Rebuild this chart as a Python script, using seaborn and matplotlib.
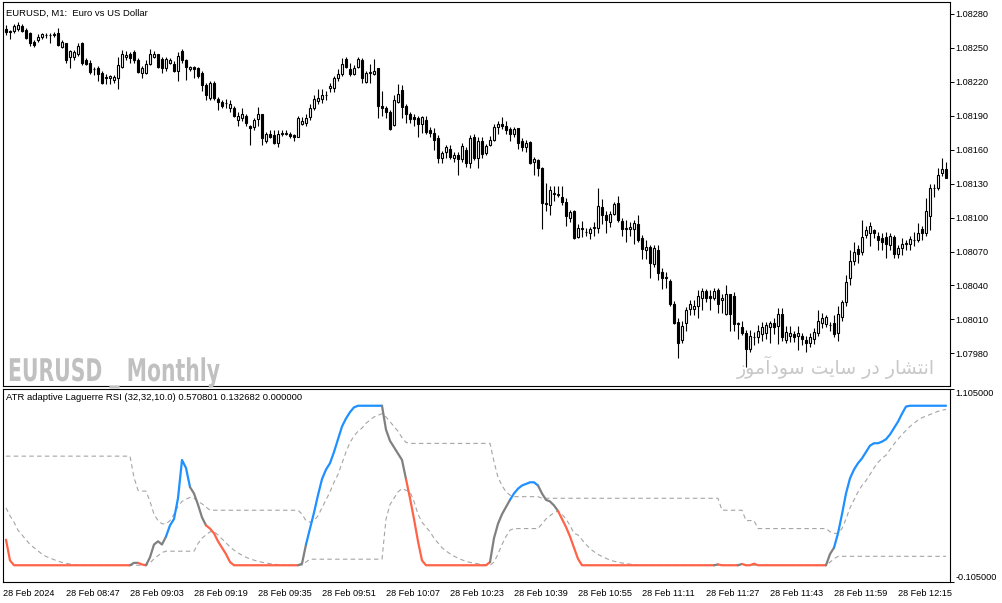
import numpy as np
import pandas as pd
import matplotlib
matplotlib.use("Agg")
import matplotlib.pyplot as plt
import seaborn as sns
from matplotlib.patheffects import AbstractPathEffect
from matplotlib.transforms import Affine2D

# ---------------- data (prices in points above 1.08000) ----------------
open_pts = [267, 264, 265, 267, 269, 266, 263, 255, 257, 260, 261, 261, 261, 263, 251, 254, 242, 242, 245, 254,
            239, 237, 231, 232, 228, 224, 223, 222, 223, 233, 242, 245, 246, 239, 228, 228, 236, 242, 245, 240,
            232, 237, 236, 230, 247, 239, 231, 233, 232, 228, 217, 206, 219, 205, 202, 201, 197, 197, 186, 188,
            190, 181, 180, 187, 192, 168, 174, 173, 166, 174, 174, 174, 173, 171, 183, 184, 189, 197, 203, 205,
            208, 215, 215, 223, 227, 240, 231, 227, 233, 239, 220, 228, 227, 232, 199, 197, 193, 182, 202, 213,
            199, 192, 189, 188, 183, 186, 177, 175, 170, 153, 158, 161, 153, 155, 152, 160, 148, 171, 153, 168,
            157, 164, 169, 180, 183, 181, 178, 174, 179, 168, 162, 167, 149, 151, 144, 113, 111, 121, 120, 118,
            114, 100, 106, 83, 90, 87, 86, 91, 91, 109, 102, 96, 103, 113, 97, 90, 90, 90, 94, 82,
            71, 74, 59, 71, 52, 47, 44, 24, 8, -8, 7, 19, 19, 22, 29, 35, 31, 29, 36, 27,
            15, 32, 31, 6, 3, -2, -16, -6, -6, -3, -2, 3, 7, 4, 15, -8, -5, -3, -5, -5,
            -8, -11, -7, -2, 7, 6, 5, 7, -2, 12, 25, 47, 62, 72, 70, 85, 86, 89, 84, 82,
            83, 76, 83, 68, 73, 77, 77, 80, 80, 90, 86, 101, 126, 126, 139, 143]
high_pts = [270, 266, 271, 273, 271, 268, 264, 257, 262, 263, 263, 263, 264, 268, 257, 254, 248, 248, 254, 255,
            241, 239, 233, 234, 230, 227, 226, 226, 242, 248, 247, 246, 248, 241, 234, 239, 249, 247, 245, 242,
            242, 241, 238, 246, 249, 240, 234, 234, 233, 230, 219, 221, 221, 207, 204, 205, 204, 199, 193, 197,
            192, 182, 188, 198, 192, 176, 177, 177, 177, 177, 177, 176, 174, 190, 189, 192, 200, 208, 214, 214,
            212, 219, 225, 231, 241, 242, 237, 235, 242, 241, 230, 236, 240, 232, 212, 199, 195, 208, 218, 217,
            200, 193, 192, 190, 190, 190, 180, 179, 173, 159, 164, 164, 158, 158, 166, 162, 173, 174, 171, 171,
            165, 172, 183, 185, 189, 185, 180, 180, 179, 170, 169, 168, 154, 152, 145, 131, 128, 128, 128, 128,
            117, 107, 107, 94, 97, 91, 92, 96, 126, 116, 106, 106, 114, 119, 100, 98, 96, 98, 102, 85,
            80, 76, 76, 76, 55, 52, 46, 26, 11, 9, 21, 27, 27, 36, 38, 37, 36, 38, 38, 32,
            40, 32, 34, 8, 9, 1, 1, -1, 5, 8, 8, 9, 11, 20, 20, 4, 4, 0, 4, -2,
            -5, -2, 2, 18, 16, 14, 8, 14, 22, 27, 49, 71, 78, 76, 98, 93, 96, 90, 87, 86,
            87, 86, 85, 76, 82, 80, 84, 87, 95, 93, 117, 130, 130, 144, 153, 149]
low_pts = [261, 258, 263, 265, 264, 258, 252, 251, 255, 258, 259, 254, 260, 252, 250, 237, 232, 239, 243, 235,
           235, 227, 226, 221, 218, 218, 218, 219, 214, 232, 239, 237, 237, 228, 223, 227, 235, 241, 232, 228,
           230, 236, 229, 221, 237, 222, 230, 223, 223, 212, 204, 204, 204, 195, 197, 197, 193, 189, 181, 185,
           181, 164, 177, 181, 164, 166, 170, 165, 162, 172, 173, 170, 168, 171, 182, 181, 186, 195, 200, 201,
           204, 211, 211, 221, 225, 232, 225, 226, 232, 219, 219, 219, 226, 188, 190, 188, 177, 181, 201, 188,
           184, 184, 181, 171, 175, 174, 171, 160, 148, 148, 153, 152, 149, 138, 149, 145, 144, 151, 144, 153,
           155, 163, 168, 174, 178, 174, 168, 171, 161, 159, 158, 147, 138, 137, 90, 106, 102, 115, 118, 111,
           93, 96, 81, 82, 83, 84, 81, 84, 86, 94, 86, 92, 102, 96, 84, 78, 84, 77, 78, 63,
           63, 47, 56, 45, 37, 38, 22, 6, -24, -11, 0, 14, 14, 11, 18, 25, 18, 27, 16, 16,
           14, 0, 0, -7, -4, -32, -19, -13, -11, -9, -7, -11, -3, -12, -9, -11, -10, -10, -17, -13,
           -19, -14, -12, -5, 2, 3, 0, -6, -9, 9, 22, 40, 58, 60, 67, 82, 75, 82, 71, 71,
           64, 71, 64, 64, 67, 71, 71, 75, 78, 80, 84, 89, 118, 124, 137, 135]
close_pts = [264, 265, 269, 270, 265, 259, 254, 253, 260, 262, 261, 261, 262, 253, 255, 239, 247, 246, 252, 237,
             236, 229, 231, 227, 219, 223, 225, 224, 235, 245, 244, 241, 239, 229, 232, 236, 245, 245, 233, 232,
             240, 239, 230, 243, 239, 233, 233, 231, 225, 217, 208, 219, 206, 202, 199, 201, 200, 190, 190, 192,
             184, 179, 186, 192, 170, 174, 171, 166, 174, 175, 174, 172, 171, 188, 185, 188, 197, 205, 206, 208,
             208, 216, 223, 227, 236, 233, 227, 232, 240, 223, 228, 228, 230, 199, 197, 193, 178, 204, 209, 198,
             192, 187, 187, 183, 189, 176, 175, 169, 153, 157, 162, 154, 155, 152, 163, 148, 170, 153, 168, 156,
             163, 169, 180, 183, 181, 177, 174, 178, 166, 162, 166, 148, 152, 144, 113, 112, 124, 121, 121, 114,
             101, 105, 82, 91, 90, 87, 90, 91, 110, 102, 98, 103, 112, 98, 90, 90, 92, 95, 80, 72,
             74, 60, 73, 51, 47, 47, 24, 7, -11, 4, 18, 24, 22, 31, 35, 29, 29, 35, 24, 29,
             32, 15, 6, 6, -2, -16, -5, -6, 0, 3, 5, 7, 3, 15, -6, -1, -2, -6, -2, -7,
             -11, -6, -1, 9, 11, 12, 5, -3, 15, 25, 43, 62, 70, 68, 83, 89, 93, 86, 80, 78,
             77, 84, 68, 73, 77, 77, 81, 80, 86, 86, 106, 126, 126, 138, 143, 135]

time_labels = ["28 Feb 2024", "28 Feb 08:47", "28 Feb 09:03", "28 Feb 09:19", "28 Feb 09:35",
               "28 Feb 09:51", "28 Feb 10:07", "28 Feb 10:23", "28 Feb 10:39", "28 Feb 10:55",
               "28 Feb 11:11", "28 Feb 11:27", "28 Feb 11:43", "28 Feb 11:59", "28 Feb 12:15"]
time_label_bars = [-0.75, 15, 31, 47, 63, 79, 95, 111, 127, 143, 159, 175, 191, 207, 223]
price_ticks = [1.07980, 1.08010, 1.08040, 1.08070, 1.08100, 1.08130, 1.08160, 1.08190, 1.08220, 1.08250, 1.08280]

# ATR adaptive Laguerre RSI main line
rsi = ([0.16, 0.03] + [0.0] * 30 +
       [0.015, 0.015, 0.005, 0.0, 0.05, 0.13, 0.15, 0.13, 0.18, 0.25, 0.29, 0.42, 0.66, 0.61, 0.49, 0.45,
        0.38, 0.30, 0.25, 0.23, 0.20, 0.15, 0.11, 0.07, 0.02] + [0.0] * 17 +
       [0.01, 0.13, 0.23, 0.33, 0.44, 0.54, 0.60, 0.64, 0.71, 0.79, 0.87, 0.92, 0.96, 0.99] + [1.0] * 7 +
       [0.85, 0.78, 0.74, 0.70, 0.66, 0.54, 0.42, 0.29, 0.15, 0.03] + [0.0] * 16 +
       [0.02, 0.17, 0.26, 0.32, 0.365, 0.41, 0.45, 0.48, 0.50, 0.51, 0.52, 0.52, 0.50, 0.45, 0.41, 0.40,
        0.375, 0.34, 0.29, 0.24, 0.18, 0.11, 0.04] + [0.0] * 34 + [0.005] + [0.0] * 5 + [0.008] + [0.0] * 2 +
       [0.01] + [0.0] * 18 +
       [0.07, 0.11, 0.20, 0.32, 0.45, 0.545, 0.60, 0.64, 0.67, 0.71, 0.75, 0.765, 0.765, 0.775, 0.79, 0.82,
        0.86, 0.90, 0.95, 0.995] + [1.0] * 10)
# upper floating level
level_up = ([0.684] * 32 +
            [0.55, 0.47, 0.465, 0.465, 0.40, 0.32, 0.28, 0.26, 0.26, 0.28, 0.32, 0.37, 0.40, 0.415, 0.425,
             0.42, 0.40, 0.385, 0.365] + [0.345] * 23 +
            [0.32, 0.28, 0.27, 0.28, 0.31, 0.36, 0.41, 0.46, 0.52, 0.57, 0.64, 0.71, 0.77, 0.81, 0.84, 0.86,
             0.89, 0.91, 0.93, 0.94, 0.95, 0.93, 0.90, 0.87, 0.84, 0.80, 0.77] + [0.764] * 21 +
            [0.65, 0.55, 0.50, 0.46, 0.44] + [0.43] * 7 + [0.42] * 45 + [0.345] * 6 + [0.28] * 3 +
            [0.23] * 18 +
            [0.21, 0.20, 0.20, 0.23, 0.29, 0.36, 0.41, 0.46, 0.50, 0.53, 0.57, 0.61, 0.645, 0.67, 0.69,
             0.725, 0.76, 0.79, 0.82, 0.845, 0.87, 0.89, 0.91, 0.925, 0.935, 0.945, 0.955, 0.965, 0.972, 0.977])
# lower floating level
level_dn = ([0.36, 0.31, 0.27, 0.22, 0.19, 0.16, 0.13, 0.11, 0.09, 0.07, 0.055, 0.045, 0.035, 0.025, 0.018,
             0.013, 0.008, 0.004] + [0.0] * 18 +
            [0.015, 0.04, 0.06, 0.08] + [0.088] * 8 +
            [0.136, 0.17, 0.19, 0.21, 0.21, 0.19, 0.165, 0.14, 0.115, 0.095, 0.078, 0.063, 0.05, 0.04, 0.032,
             0.025, 0.019, 0.014, 0.01, 0.007, 0.004, 0.002] + [0.0] * 5 + [0.02] + [0.038] * 19 +
            [0.29, 0.38, 0.42, 0.46, 0.48, 0.47, 0.46, 0.40, 0.32, 0.27, 0.24, 0.21, 0.17, 0.14, 0.11, 0.09,
             0.072, 0.057, 0.045, 0.034, 0.024, 0.018, 0.013, 0.009, 0.006, 0.003] +
            [0.0, 0.02, 0.07, 0.13, 0.18, 0.22] + [0.23] * 7 +
            [0.26, 0.29, 0.31, 0.33, 0.34, 0.32, 0.29, 0.25, 0.20, 0.19, 0.16, 0.13, 0.105, 0.085, 0.068,
             0.055, 0.043, 0.033, 0.025, 0.019, 0.014, 0.011, 0.007, 0.004] + [0.0] * 48 +
            [0.02, 0.04] + [0.056] * 28)
# colour state of the main line: (state, number of bars)
state_runs = [("dn", 32), ("flat", 2), ("dn", 2), ("flat", 5), ("up", 6), ("flat", 4), ("dn", 23),
              ("flat", 2), ("up", 19), ("flat", 6), ("dn", 21), ("flat", 5), ("up", 7), ("flat", 5),
              ("dn", 39), ("flat", 1), ("dn", 5), ("flat", 1), ("dn", 21), ("flat", 2), ("up", 28)]

STATE_COLORS = {"up": "#1E90FF", "dn": "#FF6347", "flat": "#808080"}
LEVEL_COLOR = "#A5A5A5"


class Squeeze(AbstractPathEffect):
    """Narrow the glyphs horizontally around x0 (display px) - a condensed look."""

    def __init__(self, sx, x0):
        super().__init__()
        self.sx = sx
        self.x0 = x0

    def draw_path(self, renderer, gc, tpath, affine, rgbFace=None):
        squeeze = Affine2D().translate(-self.x0, 0).scale(self.sx, 1).translate(self.x0, 0)
        renderer.draw_path(gc, tpath, affine + squeeze, rgbFace)


# ---------------- frame ----------------
sns.set_theme(style="white")
plt.rcParams["font.family"] = ["Liberation Sans", "DejaVu Sans"]
plt.rcParams["axes.unicode_minus"] = False

W, H = 1003, 603
fig = plt.figure(figsize=(W / 100, H / 100), dpi=100)
fig.patch.set_facecolor("white")
ax = fig.add_axes([3 / W, (H - 386) / H, 947 / W, 384 / H])
ax2 = fig.add_axes([3 / W, (H - 582) / H, 947 / W, 193 / H])

bars = pd.DataFrame({"bar": np.arange(len(open_pts)),
                     "open": 1.08 + np.array(open_pts) / 1e5,
                     "high": 1.08 + np.array(high_pts) / 1e5,
                     "low": 1.08 + np.array(low_pts) / 1e5,
                     "close": 1.08 + np.array(close_pts) / 1e5})
bull = bars["close"] >= bars["open"]

# candles
ax.vlines(bars["bar"], bars["low"], bars["high"], color="black", lw=0.8, zorder=2)
body = (bars["close"] - bars["open"]).abs().clip(lower=0.000004)
ax.bar(bars["bar"][bull], body[bull], bottom=bars[["open", "close"]].min(axis=1)[bull], width=0.5,
       color="white", edgecolor="black", linewidth=0.8, zorder=3)
ax.bar(bars["bar"][~bull], body[~bull], bottom=bars[["open", "close"]].min(axis=1)[~bull], width=0.5,
       color="black", edgecolor="black", linewidth=0.8, zorder=3)

ax.set_xlim(-0.75, 236)
ax.set_ylim(1.079511, 1.082906)
ax.set_xticks([])
ax.yaxis.tick_right()
ax.set_yticks(price_ticks)
ax.set_yticklabels([f"{p:.5f}" for p in price_ticks])
ax.tick_params(axis="y", direction="out", length=3, width=0.7, pad=1, labelsize=6.6, colors="black")
ax.set_xlabel("")
ax.set_ylabel("")

ax.text(3 / 947, 1 - 11 / 384, "EURUSD, M1:  Euro vs US Dollar", transform=ax.transAxes,
        fontsize=6.8, va="center", ha="left", color="black")

# watermarks
wm = ax.text(5 / 947, 5 / 384, "EURUSD _ Monthly", transform=ax.transAxes, fontsize=22.5,
             family="DejaVu Sans", weight="bold", color="#C0C0C0", va="baseline", ha="left")
fig.canvas.draw()
wm_width = wm.get_window_extent().width
wm.set_path_effects([Squeeze(212 / wm_width, 8)])

# "انتشار در سایت سودآموز" in shaped (presentation) forms, visual order
fa_text = ("\uFEAF\uFEEE\uFEE3\uFE81\uFEA9\uFEEE\uFEB3 \uFE96\uFBFE\uFE8E\uFEB3 "
           "\uFEAD\uFEA9 \uFEAD\uFE8E\uFEB8\uFE98\uFEE7\uFE8D")
ax.text(932 / 947, 12 / 384, fa_text, transform=ax.transAxes, fontsize=13.6, family="DejaVu Sans",
        color="#C8C8C8", va="baseline", ha="right")

# ---------------- indicator ----------------
state = []
for s, n in state_runs:
    state += [s] * n
ind = pd.DataFrame({"bar": np.arange(len(rsi)), "rsi": rsi, "up": level_up, "dn": level_dn,
                    "state": state})

for col in ["up", "dn"]:
    sns.lineplot(data=ind, x="bar", y=col, ax=ax2, color=LEVEL_COLOR, lw=0.8,
                 linestyle=(0, (4, 3)), legend=False, zorder=2)

start = 0
for s, n in state_runs:
    end = start + n - 1
    seg = ind.iloc[max(start - 1, 0):end + 1]
    sns.lineplot(data=seg, x="bar", y="rsi", ax=ax2, color=STATE_COLORS[s], lw=1.6,
                 legend=False, zorder=3)
    start = end + 1

ax2.set_xlim(-0.75, 236)
ax2.set_ylim(-0.105, 1.105)
ax2.set_xlabel("")
ax2.set_ylabel("")
ax2.yaxis.tick_right()
ax2.set_yticks([1.105, -0.105])
ax2.set_yticklabels(["1.105000", "-0.105000"])
ylbl = ax2.get_yticklabels()
ylbl[0].set_va("top")
ylbl[1].set_va("bottom")
ax2.tick_params(axis="y", direction="out", length=3, width=0.7, pad=1, labelsize=6.6, colors="black")
ax2.set_xticks(time_label_bars)
ax2.set_xticklabels(time_labels)
for t in ax2.get_xticklabels():
    t.set_ha("left")
ax2.tick_params(axis="x", direction="out", length=4, width=0.7, pad=1, labelsize=6.6, colors="black")
ax2.text(3 / 947, 1 - 9 / 193, "ATR adaptive Laguerre RSI (32,32,10.0) 0.570801 0.132682 0.000000",
         transform=ax2.transAxes, fontsize=6.8, va="center", ha="left", color="black")

for a in (ax, ax2):
    a.set_facecolor("white")
    a.grid(False)
    for sp in a.spines.values():
        sp.set_visible(True)
        sp.set_color("black")
        sp.set_linewidth(0.8)

fig.savefig("out.png", dpi=100, facecolor="white")
